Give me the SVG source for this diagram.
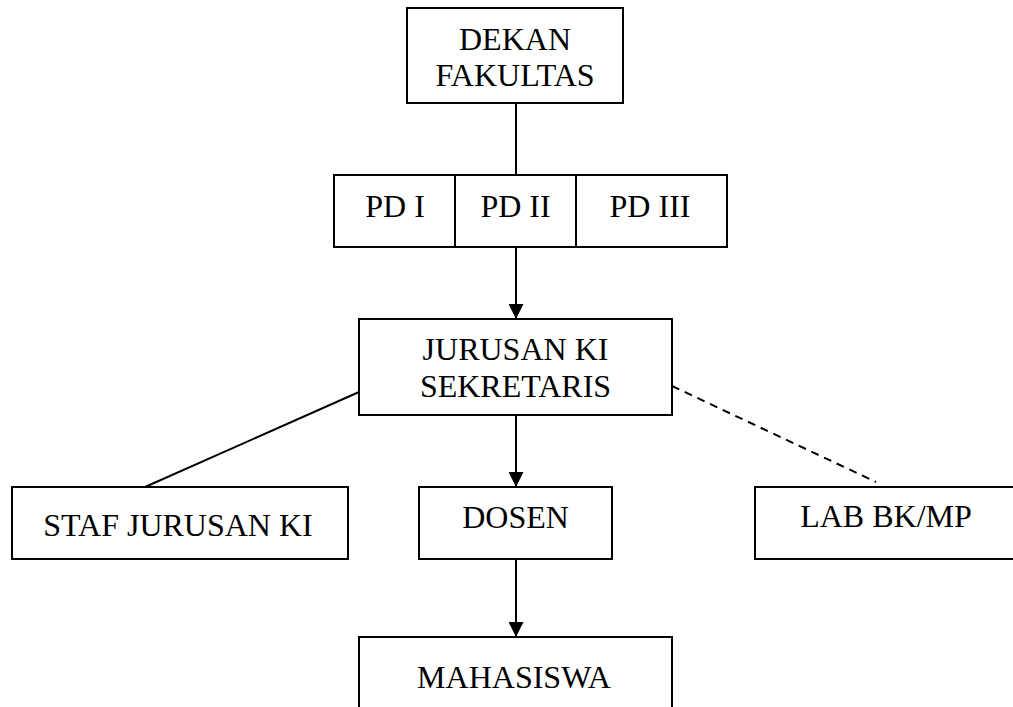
<svg xmlns="http://www.w3.org/2000/svg" width="1013" height="707" viewBox="0 0 1013 707">
<style>
.box{fill:#fff;stroke:#000;stroke-width:2}
.t{font-family:"Liberation Serif",Tinos,"Times New Roman",Times,"Nimbus Roman","Noto Serif","DejaVu Serif",FreeSerif,serif;font-size:32px;fill:#000;text-anchor:middle}
.c{stroke:#000;stroke-width:2;fill:none}
.d{stroke:#000;stroke-width:2;fill:none;stroke-dasharray:8,6}
</style>
<defs>
<marker id="arr" viewBox="0 0 10 10" refX="10" refY="5" markerWidth="15" markerHeight="15" markerUnits="userSpaceOnUse" orient="auto">
<path d="M0,0 L10,5 L0,10 Z" fill="#000"/>
</marker>
</defs>
<rect width="1013" height="707" fill="#fff"/>
<g id="connectors">
<line class="c" x1="516" y1="103" x2="516" y2="175"/>
<line class="c" x1="516" y1="247" x2="516" y2="319" marker-end="url(#arr)"/>
<line class="c" x1="516" y1="415" x2="516" y2="487" marker-end="url(#arr)"/>
<line class="c" x1="516" y1="559" x2="516" y2="637" marker-end="url(#arr)"/>
<line class="c" x1="359" y1="392" x2="145" y2="487"/>
<line class="d" x1="672" y1="386" x2="876" y2="482"/>
</g>
<g id="dekan">
<rect class="box" x="407" y="8" width="216" height="95"/>
<text class="t" x="515" y="50">DEKAN</text>
<text class="t" x="515" y="86">FAKULTAS</text>
</g>
<g id="pd1">
<rect class="box" x="334" y="175" width="121" height="72"/>
<text class="t" x="395" y="217">PD I</text>
</g>
<g id="pd2">
<rect class="box" x="455" y="175" width="121" height="72"/>
<text class="t" x="515.5" y="217">PD II</text>
</g>
<g id="pd3">
<rect class="box" x="576" y="175" width="151" height="72"/>
<text class="t" x="650" y="217">PD III</text>
</g>
<g id="jurusan">
<rect class="box" x="359" y="319" width="313" height="96"/>
<text class="t" x="515.5" y="360">JURUSAN KI</text>
<text class="t" x="515.5" y="397">SEKRETARIS</text>
</g>
<g id="staf">
<rect class="box" x="12" y="487" width="336" height="72"/>
<text class="t" x="178" y="536">STAF JURUSAN KI</text>
</g>
<g id="dosen">
<rect class="box" x="419" y="487" width="193" height="72"/>
<text class="t" x="515.5" y="528">DOSEN</text>
</g>
<g id="lab">
<rect class="box" x="755" y="487" width="270" height="72"/>
<text class="t" x="886" y="527">LAB BK/MP</text>
</g>
<g id="mahasiswa">
<rect class="box" x="359" y="637" width="313" height="90"/>
<text class="t" x="514" y="688">MAHASISWA</text>
</g>
</svg>
